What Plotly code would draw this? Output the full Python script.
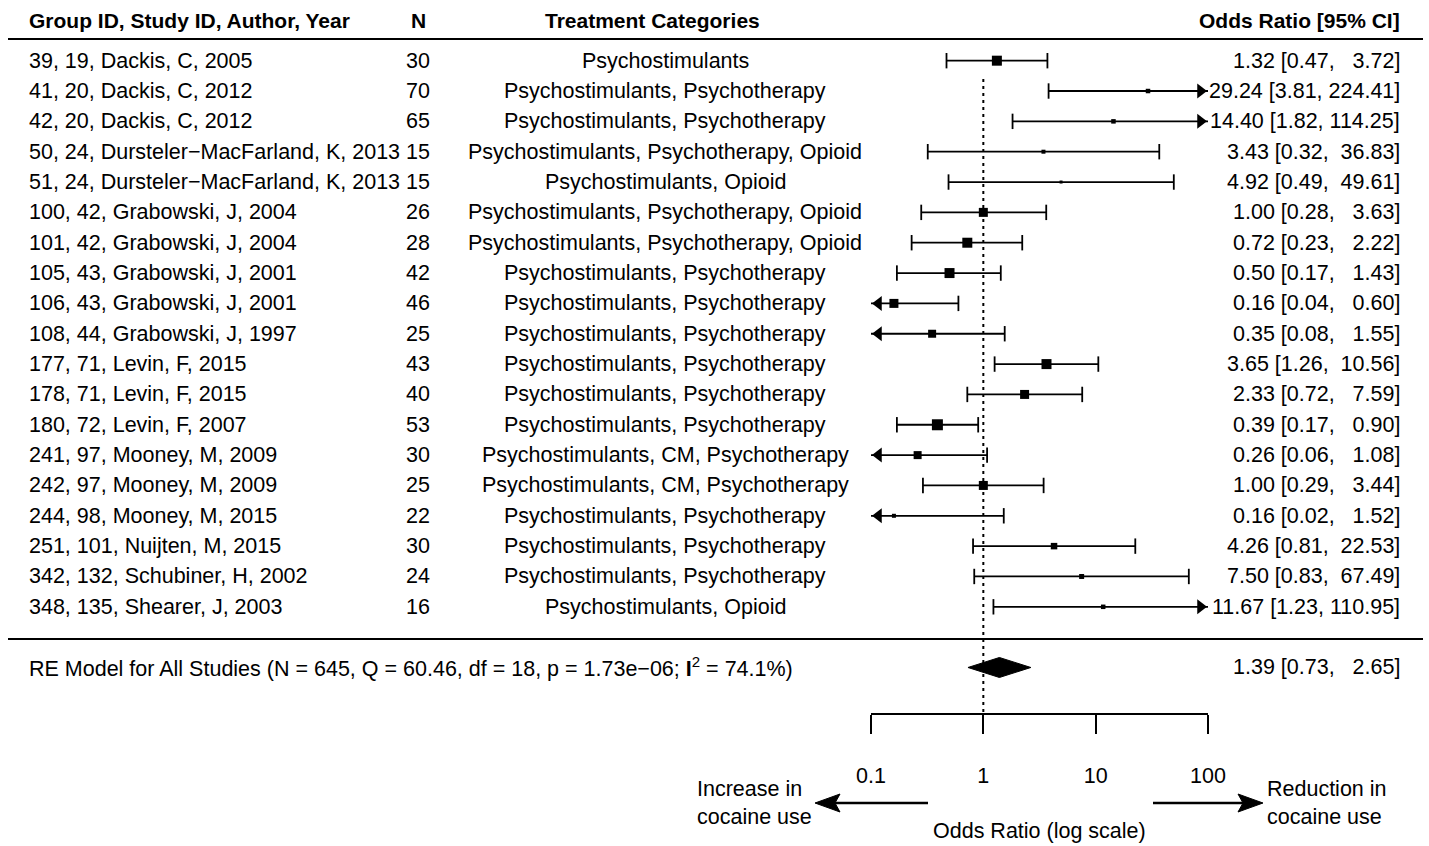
import math
import plotly.graph_objects as go

# ---------------- data ----------------
study_labels = [
    "39, 19, Dackis, C, 2005",
    "41, 20, Dackis, C, 2012",
    "42, 20, Dackis, C, 2012",
    "50, 24, Dursteler\u2212MacFarland, K, 2013",
    "51, 24, Dursteler\u2212MacFarland, K, 2013",
    "100, 42, Grabowski, J, 2004",
    "101, 42, Grabowski, J, 2004",
    "105, 43, Grabowski, J, 2001",
    "106, 43, Grabowski, J, 2001",
    "108, 44, Grabowski, J, 1997",
    "177, 71, Levin, F, 2015",
    "178, 71, Levin, F, 2015",
    "180, 72, Levin, F, 2007",
    "241, 97, Mooney, M, 2009",
    "242, 97, Mooney, M, 2009",
    "244, 98, Mooney, M, 2015",
    "251, 101, Nuijten, M, 2015",
    "342, 132, Schubiner, H, 2002",
    "348, 135, Shearer, J, 2003",
]
n_sizes = [30, 70, 65, 15, 15, 26, 28, 42, 46, 25, 43, 40, 53, 30, 25, 22, 30, 24, 16]
treatments = [
    "Psychostimulants",
    "Psychostimulants, Psychotherapy",
    "Psychostimulants, Psychotherapy",
    "Psychostimulants, Psychotherapy, Opioid",
    "Psychostimulants, Opioid",
    "Psychostimulants, Psychotherapy, Opioid",
    "Psychostimulants, Psychotherapy, Opioid",
    "Psychostimulants, Psychotherapy",
    "Psychostimulants, Psychotherapy",
    "Psychostimulants, Psychotherapy",
    "Psychostimulants, Psychotherapy",
    "Psychostimulants, Psychotherapy",
    "Psychostimulants, Psychotherapy",
    "Psychostimulants, CM, Psychotherapy",
    "Psychostimulants, CM, Psychotherapy",
    "Psychostimulants, Psychotherapy",
    "Psychostimulants, Psychotherapy",
    "Psychostimulants, Psychotherapy",
    "Psychostimulants, Opioid",
]
or_est = [1.32, 29.24, 14.40, 3.43, 4.92, 1.00, 0.72, 0.50, 0.16, 0.35,
          3.65, 2.33, 0.39, 0.26, 1.00, 0.16, 4.26, 7.50, 11.67]
ci_lo = [0.47, 3.81, 1.82, 0.32, 0.49, 0.28, 0.23, 0.17, 0.04, 0.08,
         1.26, 0.72, 0.17, 0.06, 0.29, 0.02, 0.81, 0.83, 1.23]
ci_hi = [3.72, 224.41, 114.25, 36.83, 49.61, 3.63, 2.22, 1.43, 0.60, 1.55,
         10.56, 7.59, 0.90, 1.08, 3.44, 1.52, 22.53, 67.49, 110.95]
re_est, re_lo, re_hi = 1.39, 0.73, 2.65
re_label = ("RE Model for All Studies (N = 645, Q = 60.46, df = 18, p = 1.73e\u221206; "
            "<b>I</b><sup>2</sup> = 74.1%)")
x_tickvals = [0.1, 1, 10, 100]
x_ticktext = ["0.1", "1", "10", "100"]
headers = ["Group ID, Study ID, Author, Year", "N", "Treatment Categories", "Odds Ratio [95% CI]"]

# ---------------- styling ----------------
W, H = 1429, 846
FONT = "Liberation Sans, Arial, Helvetica, sans-serif"
FS = 21.5
FS_HEAD = 21
square_px = [10, 4.5, 4.5, 4, 3, 9, 10, 10, 9, 8, 10, 9, 11, 8, 9, 4, 6.5, 5, 4.5]
X_LEFT_PX, X_RIGHT_PX = 871, 1208
AXIS_PX = 713
XLIM = (0.1, 100)
YRANGE = (-2.5, 21.0)
ppd = (X_RIGHT_PX - X_LEFT_PX) / (math.log10(XLIM[1]) - math.log10(XLIM[0]))
ppu = AXIS_PX / (YRANGE[1] - YRANGE[0])
LW = 1.8
ARROW_SIZE = 13

k = len(or_est)
rows = [k - i for i in range(k)]
re_row = -1


def px(x):
    return x / W


def py(y):
    return 1 - y / H


def fmt_ci(e, lo, hi, width=6):
    u = f"{hi:.2f}"
    pad = "\u00a0" * (width - len(u))
    return f"{e:.2f} [{lo:.2f}, {pad}{u}]"


fig = go.Figure()

# CI segments (clipped to axis limits)
sx, sy = [], []
for lo, hi, r in zip(ci_lo, ci_hi, rows):
    sx += [max(lo, XLIM[0]), min(hi, XLIM[1]), None]
    sy += [r, r, None]
fig.add_trace(go.Scatter(x=sx, y=sy, mode="lines", line=dict(color="black", width=LW),
                         hoverinfo="skip", showlegend=False))

# caps
cx, cy = [], []
for lo, hi, r in zip(ci_lo, ci_hi, rows):
    if lo >= XLIM[0]:
        cx.append(lo); cy.append(r)
    if hi <= XLIM[1]:
        cx.append(hi); cy.append(r)
fig.add_trace(go.Scatter(x=cx, y=cy, mode="markers",
                         marker=dict(symbol="line-ns", size=11, color="black",
                                     line=dict(color="black", width=LW)),
                         hoverinfo="skip", showlegend=False))

# arrows for clipped CIs
rt = (ARROW_SIZE / 2) * 2 / math.sqrt(3)
ax_, ay_, asym = [], [], []
for lo, hi, r in zip(ci_lo, ci_hi, rows):
    if lo < XLIM[0]:
        ax_.append(XLIM[0] * 10 ** (rt / ppd)); ay_.append(r); asym.append("triangle-left")
    if hi > XLIM[1]:
        ax_.append(XLIM[1] / 10 ** (rt / ppd)); ay_.append(r); asym.append("triangle-right")
fig.add_trace(go.Scatter(x=ax_, y=ay_, mode="markers", cliponaxis=False,
                         marker=dict(symbol=asym, size=ARROW_SIZE, color="black",
                                     line=dict(width=0)),
                         hoverinfo="skip", showlegend=False))

# point estimates
fig.add_trace(go.Scatter(x=or_est, y=rows, mode="markers",
                         marker=dict(symbol="square", size=square_px, color="black",
                                     opacity=1, line=dict(width=0)),
                         hoverinfo="skip", showlegend=False))

# summary diamond
dh = 10 / ppu
fig.add_trace(go.Scatter(x=[re_lo, re_est, re_hi, re_est, re_lo],
                         y=[re_row, re_row + dh, re_row, re_row - dh, re_row],
                         mode="lines", fill="toself", fillcolor="black",
                         line=dict(color="black", width=1),
                         hoverinfo="skip", showlegend=False))

# reference line at OR = 1
fig.add_trace(go.Scatter(x=[1, 1], y=[18.4, YRANGE[0]], mode="lines",
                         line=dict(color="black", width=2, dash="3px,4px"),
                         hoverinfo="skip", showlegend=False))

ann = []
base = dict(showarrow=False, font=dict(family=FONT, size=FS, color="black"))
hbase = dict(showarrow=False, font=dict(family=FONT, size=FS_HEAD, color="black"))
# headers
hy = py(20)
ann.append(dict(hbase, x=px(27), y=hy, xref="paper", yref="paper", xanchor="left",
                yanchor="middle", text=f"<b>{headers[0]}</b>"))
ann.append(dict(hbase, x=px(418), y=hy, xref="paper", yref="paper", xanchor="center",
                yanchor="middle", text=f"<b>{headers[1]}</b>"))
ann.append(dict(hbase, x=px(652), y=hy, xref="paper", yref="paper", xanchor="center",
                yanchor="middle", text=f"<b>{headers[2]}</b>"))
ann.append(dict(hbase, x=px(1402), y=hy, xref="paper", yref="paper", xanchor="right",
                yanchor="middle", text=f"<b>{headers[3]}</b>"))
# rows
for lab, n, tr, e, lo, hi, r in zip(study_labels, n_sizes, treatments, or_est, ci_lo, ci_hi, rows):
    ann.append(dict(base, x=px(27), y=r, xref="paper", yref="y", xanchor="left",
                    yanchor="middle", text=lab))
    ann.append(dict(base, x=px(418), y=r, xref="paper", yref="y", xanchor="center",
                    yanchor="middle", text=str(n)))
    ann.append(dict(base, x=px(665), y=r, xref="paper", yref="y", xanchor="center",
                    yanchor="middle", text=tr))
    ann.append(dict(base, x=px(1402), y=r, xref="paper", yref="y", xanchor="right",
                    yanchor="middle", text=fmt_ci(e, lo, hi)))
# summary row
ann.append(dict(base, x=px(27), y=re_row, xref="paper", yref="y", xanchor="left",
                yanchor="middle", text=re_label))
ann.append(dict(base, x=px(1402), y=re_row, xref="paper", yref="y", xanchor="right",
                yanchor="middle", text=fmt_ci(re_est, re_lo, re_hi)))
# bottom labels
ann.append(dict(base, x=px(1039.5), y=py(831), xref="paper", yref="paper", xanchor="center",
                yanchor="middle", text="Odds Ratio (log scale)"))
ann.append(dict(base, x=px(695), y=py(803), xref="paper", yref="paper", xanchor="left",
                yanchor="middle", align="left", text="Increase in<br>cocaine use"))
ann.append(dict(base, x=px(1265), y=py(803), xref="paper", yref="paper", xanchor="left",
                yanchor="middle", align="left", text="Reduction in<br>cocaine use"))

shapes = []
for yline in (39, 639):
    shapes.append(dict(type="line", xref="paper", yref="paper", x0=px(8), x1=px(1423),
                       y0=py(yline), y1=py(yline), line=dict(color="black", width=2)))
# direction arrows
ay = 803
shapes.append(dict(type="line", xref="paper", yref="paper", x0=px(928), x1=px(833),
                   y0=py(ay), y1=py(ay), line=dict(color="black", width=2.6)))
shapes.append(dict(type="path", xref="paper", yref="paper",
                   path=f"M {px(815)},{py(ay)} L {px(840)},{py(ay-9)} L {px(835)},{py(ay)} L {px(840)},{py(ay+9)} Z",
                   fillcolor="black", line=dict(color="black", width=1)))
shapes.append(dict(type="line", xref="paper", yref="paper", x0=px(1153), x1=px(1245),
                   y0=py(ay), y1=py(ay), line=dict(color="black", width=2.6)))
shapes.append(dict(type="path", xref="paper", yref="paper",
                   path=f"M {px(1263)},{py(ay)} L {px(1238)},{py(ay-9)} L {px(1243)},{py(ay)} L {px(1238)},{py(ay+9)} Z",
                   fillcolor="black", line=dict(color="black", width=1)))

fig.update_layout(
    width=W, height=H,
    margin=dict(l=0, r=0, t=0, b=0, pad=0, autoexpand=False),
    paper_bgcolor="white", plot_bgcolor="white",
    showlegend=False,
    annotations=ann, shapes=shapes,
    xaxis=dict(type="log", range=[math.log10(XLIM[0]), math.log10(XLIM[1])],
               domain=[X_LEFT_PX / W, X_RIGHT_PX / W], automargin=False,
               showgrid=False, zeroline=False, showline=True, linecolor="black", linewidth=2,
               ticks="outside", ticklen=19, tickwidth=2, tickcolor="black",
               tickvals=x_tickvals, ticktext=x_ticktext,
               tickfont=dict(family=FONT, size=FS, color="black"),
               ticklabelstandoff=23, fixedrange=True),
    yaxis=dict(range=list(YRANGE), domain=[1 - AXIS_PX / H, 1], visible=False,
               automargin=False, fixedrange=True),
)

fig.write_html("out.html")
